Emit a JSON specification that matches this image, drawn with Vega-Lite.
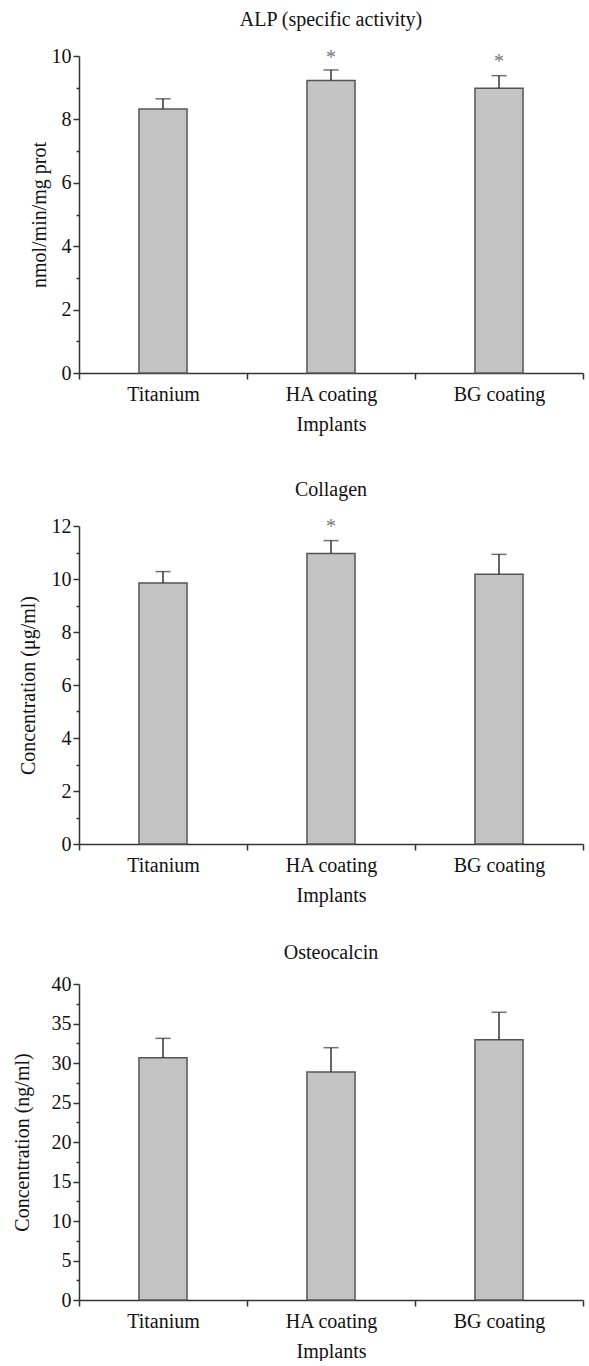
{
  "$schema": "https://vega.github.io/schema/vega-lite/v6.json",
  "background": "white",
  "padding": {"left": 12, "top": 10, "right": 6, "bottom": 0},
  "spacing": 46,
  "config": {
    "font": "Liberation Serif",
    "view": {"stroke": null},
    "axis": {
      "labelFont": "Liberation Serif", "titleFont": "Liberation Serif",
      "labelFontSize": 20, "titleFontSize": 20, "titleFontWeight": "normal",
      "labelColor": "#111", "titleColor": "#111",
      "domainColor": "#333", "tickColor": "#333", "domainWidth": 1.5, "tickWidth": 1.5, "grid": false
    },
    "axisX": {"labelAngle": 0, "tickBand": "extent", "tickSize": 6, "labelPadding": 5, "titlePadding": 10},
    "axisY": {"tickSize": 6, "labelPadding": 2, "labelOverlap": false},
    "title": {"font": "Liberation Serif", "fontSize": 20, "fontWeight": "normal", "color": "#111", "offset": 16}
  },
  "vconcat": [
    {
      "width": 504, "height": 317,
      "title": "ALP (specific activity)",
      "data": {"values": [
        {"implant": "Titanium", "mean": 8.33, "err": 8.65, "star": null},
        {"implant": "HA coating", "mean": 9.23, "err": 9.56, "star": 9.95},
        {"implant": "BG coating", "mean": 8.98, "err": 9.38, "star": 9.81}
      ]},
      "encoding": {"x": {"field": "implant", "type": "nominal", "sort": null, "title": "Implants", "scale": {"paddingInner": 0, "paddingOuter": 0}}},
      "layer": [
        {"mark": {"type": "bar", "width": {"band": 0.286}, "fill": "#c4c4c4", "stroke": "#555", "strokeWidth": 1.5},
         "encoding": {"y": {"field": "mean", "type": "quantitative", "scale": {"domain": [0, 10], "nice": false},
           "axis": {"title": "nmol/min/mg prot", "titlePadding": 2, "labelOverlap": false, "tickCount": 100, "values": [0,1,2,3,4,5,6,7,8,9,10],
             "labelExpr": "datum.value % 2 === 0 ? format(datum.value, 'd') : ''",
             "tickSize": {"condition": {"test": "datum.value % 2 === 0", "value": 6}, "value": 3}}}}},
        {"mark": {"type": "rule", "color": "#333", "strokeWidth": 1.5},
         "encoding": {"y": {"field": "mean", "type": "quantitative"}, "y2": {"field": "err"}}},
        {"mark": {"type": "tick", "color": "#333", "thickness": 1.5, "size": 15},
         "encoding": {"y": {"field": "err", "type": "quantitative"}}},
        {"transform": [{"filter": "datum.star != null"}],
         "mark": {"type": "text", "text": "*", "fontSize": 20, "color": "#777", "baseline": "middle"},
         "encoding": {"y": {"field": "star", "type": "quantitative"}}}
      ]
    },
    {
      "spacing": 38,
      "vconcat": [
        {
          "width": 504, "height": 318,
          "title": "Collagen",
          "data": {"values": [
            {"implant": "Titanium", "mean": 9.85, "err": 10.28, "star": null},
            {"implant": "HA coating", "mean": 10.96, "err": 11.45, "star": 11.96},
            {"implant": "BG coating", "mean": 10.18, "err": 10.93, "star": null}
          ]},
          "encoding": {"x": {"field": "implant", "type": "nominal", "sort": null, "title": "Implants", "scale": {"paddingInner": 0, "paddingOuter": 0}}},
          "layer": [
            {"mark": {"type": "bar", "width": {"band": 0.286}, "fill": "#c4c4c4", "stroke": "#555", "strokeWidth": 1.5},
             "encoding": {"y": {"field": "mean", "type": "quantitative", "scale": {"domain": [0, 12], "nice": false},
               "axis": {"title": "Concentration (μg/ml)", "titlePadding": 13, "labelOverlap": false, "tickCount": 100, "values": [0,1,2,3,4,5,6,7,8,9,10,11,12],
                 "labelExpr": "datum.value % 2 === 0 ? format(datum.value, 'd') : ''",
                 "tickSize": {"condition": {"test": "datum.value % 2 === 0", "value": 6}, "value": 3}}}}},
            {"mark": {"type": "rule", "color": "#333", "strokeWidth": 1.5},
             "encoding": {"y": {"field": "mean", "type": "quantitative"}, "y2": {"field": "err"}}},
            {"mark": {"type": "tick", "color": "#333", "thickness": 1.5, "size": 15},
             "encoding": {"y": {"field": "err", "type": "quantitative"}}},
            {"transform": [{"filter": "datum.star != null"}],
             "mark": {"type": "text", "text": "*", "fontSize": 20, "color": "#777", "baseline": "middle"},
             "encoding": {"y": {"field": "star", "type": "quantitative"}}}
          ]
        },
        {
          "width": 504, "height": 316,
          "title": {"text": "Osteocalcin", "offset": 11},
          "data": {"values": [
            {"implant": "Titanium", "mean": 30.67, "err": 33.12},
            {"implant": "HA coating", "mean": 28.86, "err": 31.94},
            {"implant": "BG coating", "mean": 32.95, "err": 36.42}
          ]},
          "encoding": {"x": {"field": "implant", "type": "nominal", "sort": null, "title": "Implants", "scale": {"paddingInner": 0, "paddingOuter": 0}}},
          "layer": [
            {"mark": {"type": "bar", "width": {"band": 0.286}, "fill": "#c4c4c4", "stroke": "#555", "strokeWidth": 1.5},
             "encoding": {"y": {"field": "mean", "type": "quantitative", "scale": {"domain": [0, 40], "nice": false},
               "axis": {"title": "Concentration (ng/ml)", "titlePadding": 19, "labelOverlap": false, "tickCount": 100, "values": [0,2.5,5,7.5,10,12.5,15,17.5,20,22.5,25,27.5,30,32.5,35,37.5,40],
                 "labelExpr": "datum.value % 5 === 0 ? format(datum.value, 'd') : ''",
                 "tickSize": {"condition": {"test": "datum.value % 5 === 0", "value": 6}, "value": 3}}}}},
            {"mark": {"type": "rule", "color": "#333", "strokeWidth": 1.5},
             "encoding": {"y": {"field": "mean", "type": "quantitative"}, "y2": {"field": "err"}}},
            {"mark": {"type": "tick", "color": "#333", "thickness": 1.5, "size": 15},
             "encoding": {"y": {"field": "err", "type": "quantitative"}}}
          ]
        }
      ]
    }
  ]
}
